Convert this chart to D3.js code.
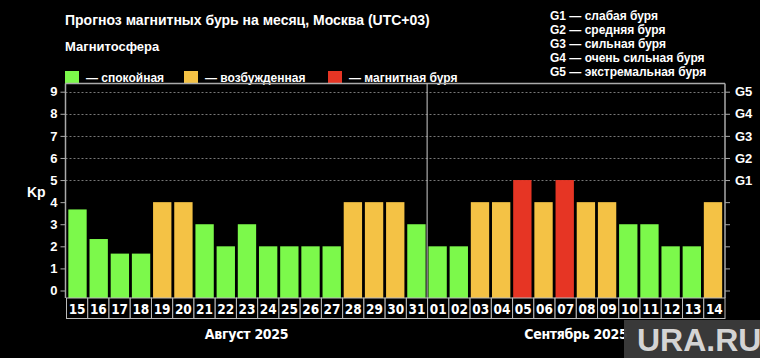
<!DOCTYPE html>
<html><head><meta charset="utf-8">
<script src="https://cdn.jsdelivr.net/npm/d3@7"></script>
<style>
html,body{margin:0;padding:0;background:#000;}
svg{display:block;}
text{font-family:"Liberation Sans",Arial,sans-serif;font-weight:bold;fill:#fff;}
.narrow{font-family:"Liberation Sans Narrow","Arial Narrow","DejaVu Sans Condensed",sans-serif;}
</style></head>
<body>
<svg id="c" width="760" height="358"></svg>
<script>
const dates = ["15","16","17","18","19","20","21","22","23","24","25","26","27","28","29","30","31",
               "01","02","03","04","05","06","07","08","09","10","11","12","13","14"];
const kp = [3.67,2.33,1.67,1.67,4,4,3,2,3,2,2,2,2,4,4,4,3,
            2,2,4,4,5,4,5,4,4,3,3,2,2,4];
const months = [{name:"Август 2025", from:"15", to:"31"},{name:"Сентябрь 2025", from:"01", to:"14"}];
const yTicks = [0,1,2,3,4,5,6,7,8,9];
const gTicks = [[5,"G1"],[6,"G2"],[7,"G3"],[8,"G4"],[9,"G5"]];
const gLegend = ["G1 — слабая буря","G2 — средняя буря","G3 — сильная буря","G4 — очень сильная буря","G5 — экстремальная буря"];
const states = [{label:"— спокойная", color:"#7cf94b"},{label:"— возбужденная", color:"#f4c245"},{label:"— магнитная буря", color:"#e63524"}];

function colorFor(v){ return v>=5 ? states[2].color : (v>=4 ? states[1].color : states[0].color); }

const svg = d3.select("#c");
const L=65.5, R=725, T=83.5, B=298;
const y = d3.scaleLinear().domain([0,9]).range([290.5,91.7]);
const xb = d3.scaleBand().domain(dates).range([66,724.5]).paddingInner(0.134).paddingOuter(0.11);
const xc = d3.scaleBand().domain(dates).range([66,724.5]).padding(0);

// title & legends
svg.append("text").attr("x",65).attr("y",25).attr("font-size",14).text("Прогноз магнитных бурь на месяц, Москва (UTC+03)");
svg.append("text").attr("x",65).attr("y",51).attr("font-size",13).text("Магнитосфера");
const lx=[65,184,328];
states.forEach((s,i)=>{
  svg.append("rect").attr("x",lx[i]).attr("y",71).attr("width",14).attr("height",13).attr("fill",s.color);
  svg.append("text").attr("x",lx[i]+21).attr("y",82).attr("font-size",12).text(s.label);
});
gLegend.forEach((t,i)=>{
  svg.append("text").attr("x",550).attr("y",20+i*14).attr("font-size",12).text(t);
});

// grid
svg.append("g").selectAll("line").data(gTicks).join("line")
  .attr("x1",L).attr("x2",R).attr("y1",d=>Math.round(y(d[0]))+0.5).attr("y2",d=>Math.round(y(d[0]))+0.5)
  .attr("stroke","#777").attr("stroke-width",1).attr("stroke-dasharray","2,2");

// bars
svg.append("g").selectAll("rect").data(dates).join("rect")
  .attr("x",d=>xb(d)).attr("width",xb.bandwidth())
  .attr("y",(d,i)=>y(kp[i])).attr("height",(d,i)=>B-y(kp[i]))
  .attr("fill",(d,i)=>colorFor(kp[i]));

// frame
const fr = svg.append("g").attr("stroke","#aaa").attr("stroke-width",1.5).attr("fill","none");
fr.append("line").attr("x1",L).attr("x2",R).attr("y1",T).attr("y2",T);
fr.append("line").attr("x1",L).attr("x2",L).attr("y1",T).attr("y2",B);
fr.append("line").attr("x1",R).attr("x2",R).attr("y1",T).attr("y2",B);
const sepX = xc("01");
svg.append("line").attr("x1",sepX).attr("x2",sepX).attr("y1",T).attr("y2",B).attr("stroke","#ccc").attr("stroke-width",1);

// left axis
const ly = svg.append("g").attr("transform",`translate(${L},0)`)
  .call(d3.axisLeft(y).tickValues(yTicks).tickSize(5).tickPadding(3).tickFormat(d3.format("d")));
ly.select(".domain").remove();
ly.selectAll("line").attr("stroke","#aaa");
ly.selectAll("text").attr("font-size",13).attr("fill","#fff").style("font-family","'Liberation Sans',Arial,sans-serif").style("font-weight","bold");

// right axis
const ry = svg.append("g").attr("transform",`translate(${R},0)`)
  .call(d3.axisRight(y).tickValues(yTicks).tickSize(5).tickPadding(5)
    .tickFormat(d=>{const g=gTicks.find(t=>t[0]===d); return g?g[1]:"";}));
ry.select(".domain").remove();
ry.selectAll("line").attr("stroke","#aaa");
ry.selectAll("text").attr("font-size",13).attr("fill","#fff").style("font-family","'Liberation Sans',Arial,sans-serif").style("font-weight","bold");

svg.append("text").attr("x",27).attr("y",197).attr("font-size",14).text("Kp");

// date boxes
const db = svg.append("g");
db.selectAll("rect").data(dates).join("rect")
  .attr("x",d=>xc(d)+0.5).attr("y",B).attr("width",xc.bandwidth()).attr("height",20.5)
  .attr("fill","#000").attr("stroke","#bbb").attr("stroke-width",1);
db.selectAll("text").data(dates).join("text").attr("class","narrow")
  .attr("x",d=>xc(d)+xc.bandwidth()/2+0.5).attr("y",314).attr("text-anchor","middle").attr("font-size",13.5).text(d=>d);

// months
months.forEach(m=>{
  const cx = (xc(m.from)+xc(m.to)+xc.bandwidth())/2;
  svg.append("text").attr("class","narrow").attr("x",cx).attr("y",339).attr("text-anchor","middle").attr("font-size",14).attr("letter-spacing",-0.3).text(m.name);
});

// watermark
svg.append("rect").attr("x",624).attr("y",320).attr("width",136).attr("height",38).attr("fill","#3b3b3b").attr("opacity",0.97);
svg.append("text").attr("x",637).attr("y",351).attr("font-size",32).style("fill","#d4d4d4").text("URA.RU");
</script>
</body></html>
